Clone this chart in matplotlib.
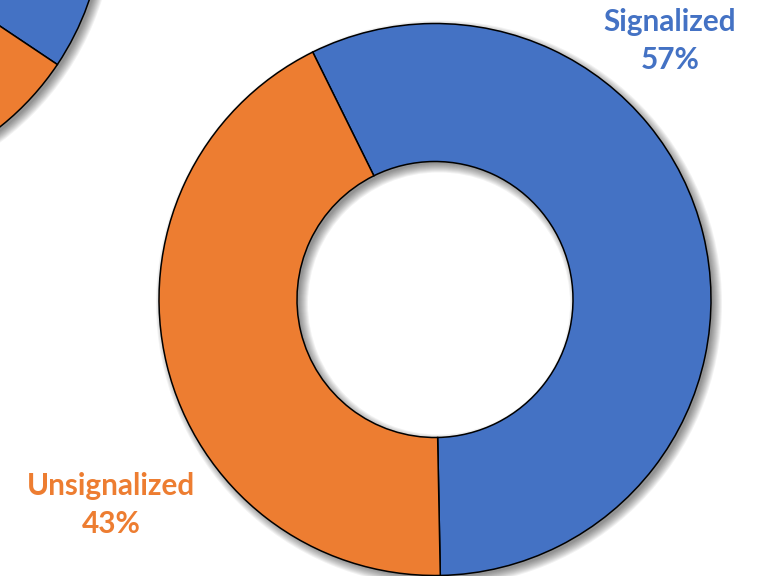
import matplotlib
matplotlib.use("Agg")
import matplotlib.pyplot as plt

# ---- data ----
categories = ["Signalized", "Unsignalized"]
values = [57, 43]
colors = ["#4472C4", "#ED7D31"]
# partially visible neighbouring chart (top-left corner)
left_values = [62, 38]

W, H = 761, 576
fig = plt.figure(figsize=(W / 100, H / 100), dpi=100)
ax = fig.add_axes([0, 0, 1, 1])

R = 276
R_IN = 138

def donut(center, vals, start):
    cx, cy = center
    # soft shadow (offset bottom-right, blurred by stacked layers)
    for d in range(-2, 8):
        ax.pie([1], colors=["black"], radius=R + d, center=(cx + 4, cy - 4),
               startangle=0, counterclock=False,
               wedgeprops=dict(width=(R + d) - (R_IN - d), linewidth=0, alpha=0.05))
    wedges, _ = ax.pie(vals, colors=colors, radius=R, center=(cx, cy),
                       startangle=start, counterclock=False,
                       wedgeprops=dict(width=R - R_IN, edgecolor="black", linewidth=1.1))
    return wedges

main_center = (435, H - 299.5)
donut(main_center, values, 116.3)
donut((-172, H + 89), left_values, 189.4)

ax.set_xlim(0, W)
ax.set_ylim(0, H)
ax.set_aspect("equal")
ax.axis("off")

font = dict(family=["Lato", "DejaVu Sans"], fontweight="bold", fontsize=21.4,
            ha="center", va="center", linespacing=1.47)
ax.text(670, H - 41, f"{categories[0]}\n{values[0]}%", color=colors[0], **font)
ax.text(111, H - 505, f"{categories[1]}\n{values[1]}%", color=colors[1], **font)

fig.savefig("out.png", dpi=100)
